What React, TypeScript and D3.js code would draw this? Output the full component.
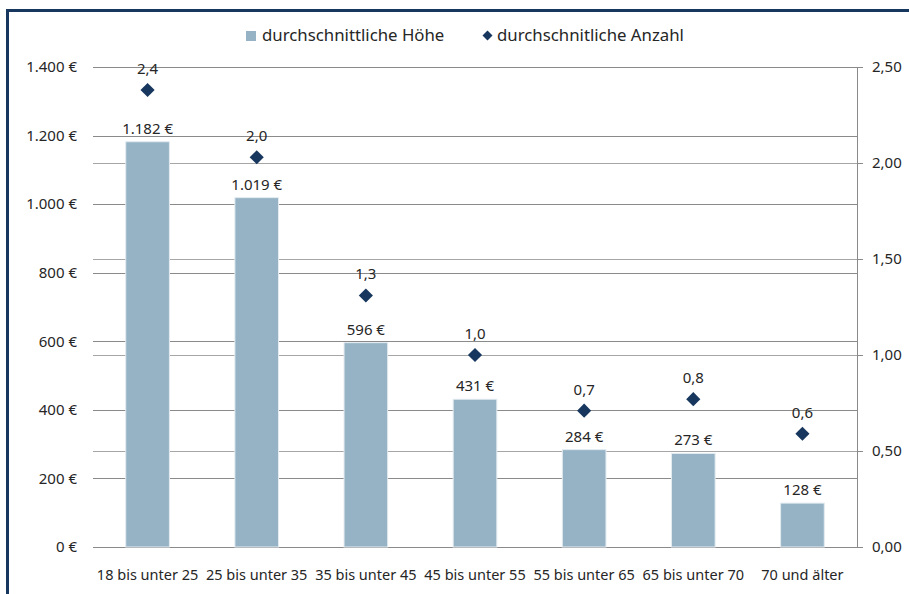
import React from "react";
import * as d3 from "d3";

const categories = [
  "18 bis unter 25",
  "25 bis unter 35",
  "35 bis unter 45",
  "45 bis unter 55",
  "55 bis unter 65",
  "65 bis unter 70",
  "70 und älter",
];
const hoehe = [1182, 1019, 596, 431, 284, 273, 128];
const anzahl = [2.38, 2.03, 1.31, 1.0, 0.71, 0.77, 0.59];
const leftTicks = [0, 200, 400, 600, 800, 1000, 1200, 1400];
const rightTicks = [0, 0.5, 1.0, 1.5, 2.0, 2.5];
const legendLabels = ["durchschnittliche Höhe", "durchschnitliche Anzahl"];

const W = 909;
const H = 594;
const FONT = "'Noto Sans', 'Open Sans', sans-serif";
const TEXT = "#262626";
const BAR = "#95b3c5";
const NAVY = "#17375e";

const loc = d3.formatLocale({
  decimal: ",",
  thousands: ".",
  grouping: [3],
  currency: ["", " €"],
});
const fmtEuro = (v: number) => loc.format(",.0f")(v) + " €";
const fmtRight = (v: number) => loc.format(".2f")(v);
const fmtOne = (v: number) => loc.format(".1f")(v);

export default function App() {
  const left = 93;
  const right = 857;
  const top = 67;
  const bottom = 547;

  const x = d3
    .scaleBand<string>()
    .domain(categories)
    .range([left, right])
    .paddingInner(0.6)
    .paddingOuter(0.3);
  const yL = d3.scaleLinear().domain([0, 1400]).range([bottom, top]);
  const yR = d3.scaleLinear().domain([0, 2.5]).range([bottom, top]);
  const diamond = d3.symbol().type(d3.symbolSquare).size(100)();
  const diamondSmall = d3.symbol().type(d3.symbolSquare).size(50)();

  return (
    <svg
      width={W}
      height={H}
      style={{ position: "absolute", left: 0, top: 0, background: "#fff" }}
      fontFamily={FONT}
    >
      <rect x={0} y={0} width={W} height={H} fill="#fff" />
      {/* right-axis gridlines */}
      {rightTicks.map((t) => (
        <line
          key={"gr" + t}
          x1={left}
          x2={right}
          y1={Math.round(yR(t)) + 0.5}
          y2={Math.round(yR(t)) + 0.5}
          stroke="#a6a6a6"
          strokeWidth={1}
        />
      ))}
      {/* left-axis gridlines */}
      {leftTicks.map((t) => (
        <line
          key={"gl" + t}
          x1={left}
          x2={right}
          y1={Math.round(yL(t)) + 0.5}
          y2={Math.round(yL(t)) + 0.5}
          stroke="#8a8a8a"
          strokeWidth={1}
        />
      ))}
      {/* right axis line + ticks */}
      <line x1={right + 0.5} x2={right + 0.5} y1={top} y2={bottom + 0.5} stroke="#8a8a8a" />
      {rightTicks.map((t) => (
        <g key={"rt" + t}>
          <line
            x1={right}
            x2={right + 6}
            y1={Math.round(yR(t)) + 0.5}
            y2={Math.round(yR(t)) + 0.5}
            stroke="#8a8a8a"
          />
          <text x={872} y={yR(t)} dy="0.35em" fontSize={15} fill={TEXT}>
            {fmtRight(t)}
          </text>
        </g>
      ))}
      {/* left tick labels */}
      {leftTicks.map((t) => (
        <text
          key={"lt" + t}
          x={77}
          y={yL(t)}
          dy="0.35em"
          fontSize={15}
          textAnchor="end"
          fill={TEXT}
        >
          {fmtEuro(t)}
        </text>
      ))}
      {/* bars */}
      {categories.map((c, i) => (
        <rect
          key={"b" + c}
          x={x(c)!}
          y={yL(hoehe[i])}
          width={x.bandwidth()}
          height={yL(0) - yL(hoehe[i])}
          fill={BAR}
          stroke="#e4ecf1"
          strokeWidth={1}
        />
      ))}
      {/* bar labels */}
      {categories.map((c, i) => (
        <text
          key={"bl" + c}
          x={x(c)! + x.bandwidth() / 2}
          y={yL(hoehe[i]) - 8}
          fontSize={15}
          textAnchor="middle"
          fill={TEXT}
        >
          {fmtEuro(hoehe[i])}
        </text>
      ))}
      {/* diamonds */}
      {categories.map((c, i) => (
        <path
          key={"d" + c}
          d={diamond!}
          transform={`translate(${x(c)! + x.bandwidth() / 2},${yR(anzahl[i])}) rotate(45)`}
          fill={NAVY}
        />
      ))}
      {categories.map((c, i) => (
        <text
          key={"dl" + c}
          x={x(c)! + x.bandwidth() / 2}
          y={yR(anzahl[i]) - 16}
          fontSize={15}
          textAnchor="middle"
          fill={TEXT}
        >
          {fmtOne(anzahl[i])}
        </text>
      ))}
      {/* category labels */}
      {categories.map((c) => (
        <text
          key={"c" + c}
          x={x(c)! + x.bandwidth() / 2}
          y={580}
          fontSize={14.5}
          textAnchor="middle"
          fill={TEXT}
        >
          {c}
        </text>
      ))}
      {/* legend */}
      <rect x={246} y={31} width={10} height={10} fill={BAR} />
      <text x={262} y={41} fontSize={16.8} fill={TEXT}>
        {legendLabels[0]}
      </text>
      <path d={diamondSmall!} transform="translate(487.5,35.5) rotate(45)" fill={NAVY} />
      <text x={497} y={41} fontSize={16.8} fill={TEXT}>
        {legendLabels[1]}
      </text>
      {/* outer frame */}
      <rect
        x={7.5}
        y={10.5}
        width={W + 10}
        height={H + 10}
        fill="none"
        stroke={NAVY}
        strokeWidth={3}
      />
    </svg>
  );
}
